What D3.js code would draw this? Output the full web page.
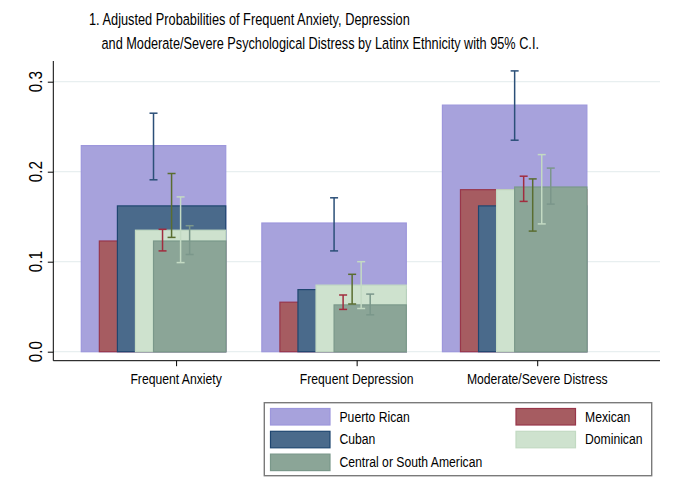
<!DOCTYPE html>
<html>
<head>
<meta charset="utf-8">
<script src="https://cdn.jsdelivr.net/npm/d3@7"></script>
<style>
  body { margin: 0; background: #fff; }
  text { font-family: "Liberation Sans", Arial, sans-serif; fill: #000; }
</style>
</head>
<body>
<svg id="chart"></svg>
<script>
// categories and tick labels
const categories = ["Frequent Anxiety", "Frequent Depression", "Moderate/Severe Distress"];
const yTicks = [0, 0.1, 0.2, 0.3];
const yTickLabels = ["0.0", "0.1", "0.2", "0.3"];
const groups = ["Puerto Rican", "Mexican", "Cuban", "Dominican", "Central or South American"];

// adjusted probabilities with 95% CI
const estPuertoRican = [0.229, 0.143, 0.274];
const lowPuertoRican = [0.191, 0.112, 0.235];
const highPuertoRican = [0.265, 0.171, 0.312];

const estMexican = [0.123, 0.055, 0.180];
const lowMexican = [0.112, 0.047, 0.167];
const highMexican = [0.136, 0.063, 0.195];

const estCuban = [0.162, 0.069, 0.162];
const lowCuban = [0.127, 0.053, 0.134];
const highCuban = [0.198, 0.086, 0.192];

const estDominican = [0.135, 0.074, 0.180];
const lowDominican = [0.099, 0.048, 0.142];
const highDominican = [0.172, 0.100, 0.219];

const estCentral = [0.123, 0.052, 0.183];
const lowCentral = [0.108, 0.041, 0.164];
const highCentral = [0.140, 0.064, 0.204];

document.addEventListener("DOMContentLoaded", function() {
    const width = 685, height = 497;
    const sx = 0.87; // text looks a bit condensed in the original

    const svg = d3.select("#chart")
        .attr("width", width)
        .attr("height", height);

    const series = [
        {name: groups[0], est: estPuertoRican, lo: lowPuertoRican, hi: highPuertoRican, fill: "#a7a2dc", stroke: "#9d97dc", ci: "#2b4f78"},
        {name: groups[1], est: estMexican, lo: lowMexican, hi: highMexican, fill: "#a65c61", stroke: "#98364a", ci: "#a12c3e"},
        {name: groups[2], est: estCuban, lo: lowCuban, hi: highCuban, fill: "#4a6a8b", stroke: "#1f4670", ci: "#5a6d30"},
        {name: groups[3], est: estDominican, lo: lowDominican, hi: highDominican, fill: "#cee2ce", stroke: "#c2dac2", ci: "#c3dac3"},
        {name: groups[4], est: estCentral, lo: lowCentral, hi: highCentral, fill: "#8ba597", stroke: "#7a988a", ci: "#7b978b"}
    ];

    // x in category units (1, 2, 3)
    const x = d3.scaleLinear().domain([0.32, 3.68]).range([53.3, 660]);
    const y = d3.scaleLinear().domain([0, 0.3]).range([351.7, 81.7]);
    const yTop = 61, yBottom = 360.7;

    function ctext(g, tx, ty, str, size, anchor, rot) {
        return g.append("text")
            .attr("transform", `translate(${tx},${ty})` + (rot ? ` rotate(${rot})` : "") + ` scale(${sx},1)`)
            .attr("text-anchor", anchor || "start")
            .style("font-size", size + "px")
            .text(str);
    }

    // title lines, squeezed to the width they have in the original
    function titleLine(tx, ty, str, target) {
        const t = svg.append("text")
            .attr("transform", `translate(${tx},${ty})`)
            .style("font-size", "16.5px")
            .text(str);
        const len = t.node().getComputedTextLength();
        t.attr("transform", `translate(${tx},${ty}) scale(${target / len},1)`);
    }
    titleLine(89, 25, "1. Adjusted Probabilities of Frequent Anxiety, Depression", 321);
    titleLine(101.5, 48.5, "and Moderate/Severe Psychological Distress by Latinx Ethnicity with 95% C.I.", 438);

    // grid
    svg.append("g")
        .selectAll("line")
        .data(yTicks)
        .enter()
        .append("line")
        .attr("x1", x.range()[0])
        .attr("x2", x.range()[1])
        .attr("y1", d => y(d))
        .attr("y2", d => y(d))
        .attr("stroke", "#e8eff0")
        .attr("stroke-width", 1.2);

    // bars: each series shifted right by 0.05 and narrowed by 0.1, right edges line up
    series.forEach(function(s, k) {
        const off = -0.125 + 0.05 * k, w = 0.8 - 0.1 * k;
        svg.append("g")
            .selectAll("rect")
            .data(s.est)
            .enter()
            .append("rect")
            .attr("x", (d, i) => x(i + 1 + off - w / 2))
            .attr("width", (d, i) => x(i + 1 + off + w / 2) - x(i + 1 + off - w / 2))
            .attr("y", d => y(d))
            .attr("height", d => y(0) - y(d))
            .attr("fill", s.fill)
            .attr("stroke", s.stroke)
            .attr("stroke-width", 1.2);
    });

    // confidence intervals
    series.forEach(function(s, k) {
        const off = -0.125 + 0.05 * k;
        const g = svg.append("g").attr("stroke", s.ci).attr("stroke-width", 1.5).attr("fill", "none");
        s.est.forEach(function(d, i) {
            const cx = x(i + 1 + off);
            g.append("line").attr("x1", cx).attr("x2", cx).attr("y1", y(s.lo[i])).attr("y2", y(s.hi[i]));
            g.append("line").attr("x1", cx - 4).attr("x2", cx + 4).attr("y1", y(s.lo[i])).attr("y2", y(s.lo[i]));
            g.append("line").attr("x1", cx - 4).attr("x2", cx + 4).attr("y1", y(s.hi[i])).attr("y2", y(s.hi[i]));
        });
    });

    // y axis
    const yAxis = svg.append("g")
        .attr("transform", `translate(${x.range()[0]},0)`)
        .call(d3.axisLeft(y).tickValues(yTicks).tickSize(5.5).tickFormat(""));
    yAxis.select(".domain").attr("d", `M0,${yTop}V${yBottom}`).attr("stroke", "#000");
    yAxis.selectAll(".tick line").attr("stroke", "#000");
    yTicks.forEach(function(t, i) {
        ctext(svg, 41.5, y(t), yTickLabels[i], 17.5, "middle", -90);
    });

    // x axis
    const xAxis = svg.append("g")
        .attr("transform", `translate(0,${yBottom})`)
        .call(d3.axisBottom(x).tickValues([1, 2, 3]).tickSize(5.5).tickFormat(""));
    xAxis.select(".domain").attr("d", `M${x.range()[0]},0H${x.range()[1]}`).attr("stroke", "#000");
    xAxis.selectAll(".tick line").attr("stroke", "#000");
    categories.forEach(function(c, i) {
        ctext(svg, x(i + 1), 383.5, c, 14, "middle");
    });

    // legend
    const legend = svg.append("g");
    legend.append("rect")
        .attr("x", 264.3).attr("y", 402.7)
        .attr("width", 387.4).attr("height", 73)
        .attr("fill", "#fff")
        .attr("stroke", "#7a7a7a")
        .attr("stroke-width", 1.4);
    const legendPos = [[0, 0], [1, 0], [0, 1], [1, 1], [0, 2]];
    series.forEach(function(s, j) {
        const col = legendPos[j][0], row = legendPos[j][1];
        const lx = col === 0 ? 270.5 : 516;
        const ly = 408.5 + row * 22.8;
        legend.append("rect")
            .attr("x", lx).attr("y", ly)
            .attr("width", 59.5).attr("height", 16.5)
            .attr("fill", s.fill)
            .attr("stroke", s.stroke)
            .attr("stroke-width", 1.2);
        ctext(legend, lx + 69, ly + 13, s.name, 14);
    });
});
</script>
</body>
</html>
